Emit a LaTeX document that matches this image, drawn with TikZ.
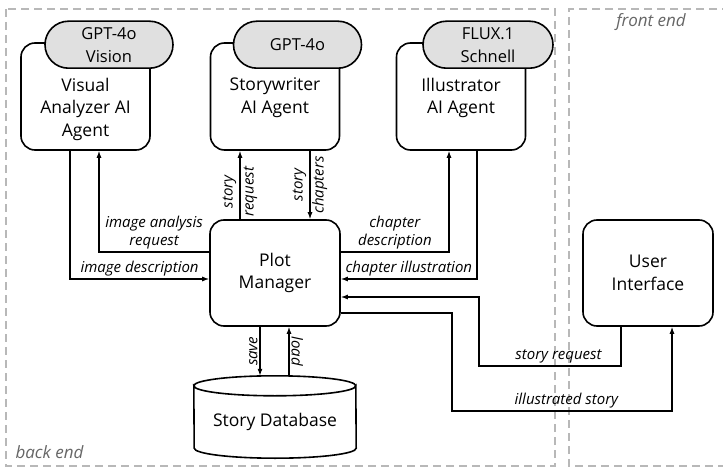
\documentclass[tikz,border=0pt]{standalone}
\usepackage{fontspec}
\setmainfont{Open Sans}
\usetikzlibrary{arrows.meta,shapes.misc}
\colorlet{model fill color}{black!12}
\colorlet{zone color}{black!28}
\tikzset{
    x={1pt},
    y={-1pt},
    zone/.style={
        draw=zone color,
        dash pattern=on 8pt off 5pt,
        line width={1.5pt},
    },
    zone label/.style={
        font={\itshape\fontsize{17}{19}\selectfont},
        text=black!60,
    },
    box text/.style={
        align=center,
        font={\fontsize{17.5}{22.5}\selectfont},
    },
    box/.style={
        draw, box text,
        line width={1.6pt},
        rounded corners={14pt},
        minimum width={130},
        minimum height={106},
    },
    agent/.style={
        box,
        minimum width={129},
        minimum height={107},
        label={[box text, anchor=north, yshift=-32]north:#1},
    },
    model/.style={
        draw, fill=model fill color,
        rounded rectangle,
        line width={1.6pt},
        inner sep=0pt,
        minimum width={128},
        minimum height={47},
        align=center,
        font={\fontsize{16.5}{23}\selectfont},
    },
    flow/.style={
        draw,
        line width={1.2pt},
        -{Latex[length=7pt,width=5pt]},
    },
    flow label/.style={
        font={\itshape\fontsize{15}{18}\selectfont},
        inner sep=2pt,
        align=center,
    },
    split label/.style={
        flow label,
        rotate=90,
        font={\itshape\fontsize{15}{21}\selectfont},
    },
}

\begin{document}
\begin{tikzpicture}
\useasboundingbox (0,0) rectangle (723,468);
% zones
\draw[zone] (6,9) rectangle (555,466);
\draw[zone] (730,9) -- (569,9) -- (569,466) -- (730,466);
\node[zone label, anchor=west] (back) at (12,452) {back end};
\node[zone label] (front) at (651,22) {front end};
% agents
\node[agent={Visual\\Analyzer AI\\Agent}] (va) at (85.5,96.5) {};
\node[agent={Storywriter\\AI Agent}] (sw) at (275,96.5) {};
\node[agent={Illustrator\\AI Agent}] (il) at (461,96.5) {};
% models
\node[model] (vam) at ([xshift=23.5,yshift=-2.5]va.north) {GPT-4o\\Vision};
\node[model] (swm) at ([xshift=22.5,yshift=-2.5]sw.north) {GPT-4o};
\node[model, minimum width={130}] (ilm) at ([xshift=27,yshift=-2.5]il.north) {FLUX.1\\Schnell};
% manager, interface, database
\node[box] (pm) at (275,273) {Plot\\Manager};
\node[box] (ui) at (648,273) {User\\Interface};
\node[minimum width={162}, minimum height={82}, label={[box text, yshift=-5]center:Story Database}] (db) at (275,417) {};
\draw[line width={1.6pt}] ([yshift=-10]db.north west) arc[start angle=180, end angle=360, x radius=81pt, y radius=10pt]
    -- ([yshift=10]db.south east) arc[start angle=0, end angle=-180, x radius=81pt, y radius=10pt] -- cycle;
\draw[line width={1.6pt}] ([yshift=-10]db.north west) arc[start angle=180, end angle=0, x radius=81pt, y radius=10pt];
% connectors
\draw[flow] ([xshift=-15.5]va.south) |- node[flow label, pos=0.75, above] {image description} ([yshift=-6]pm.west);
\draw[flow] ([yshift=21]pm.west) -| node[flow label, pos=0.25, above] {image analysis\\request} ([xshift=13.5]va.south);
\draw[flow] ([xshift=-35]pm.north) -- node[split label, pos=0.4] {story\\request} ([xshift=-35]sw.south);
\draw[flow] ([xshift=35]sw.south) -- node[split label, midway] {story\\chapters} ([xshift=35]pm.north);
\draw[flow] ([yshift=21]pm.east) -| node[flow label, pos=0.25, above] {chapter\\description} ([xshift=-12]il.south);
\draw[flow] ([xshift=16]il.south) |- node[flow label, pos=0.75, above] {chapter illustration} ([yshift=-6]pm.east);
\draw[flow] ([xshift=-15]pm.south) -- node[flow label, rotate=90, anchor=south] {save} ([xshift=-15]db.north);
\draw[flow] ([xshift=14]db.north) -- node[flow label, rotate=-90, anchor=south] {load} ([xshift=14]pm.south);
\coordinate (turn1) at (479,366);
\coordinate (turn2) at (452,411);
\draw[flow] ([xshift=-27]ui.south) |- node[flow label, pos=0.72, above] {story request} (turn1) |- ([yshift=-24]pm.east);
\draw[flow] ([yshift=-40]pm.east) -| (turn2) -| node[flow label, pos=0.26, above] {illustrated story} ([xshift=24]ui.south);
\end{tikzpicture}
\end{document}
